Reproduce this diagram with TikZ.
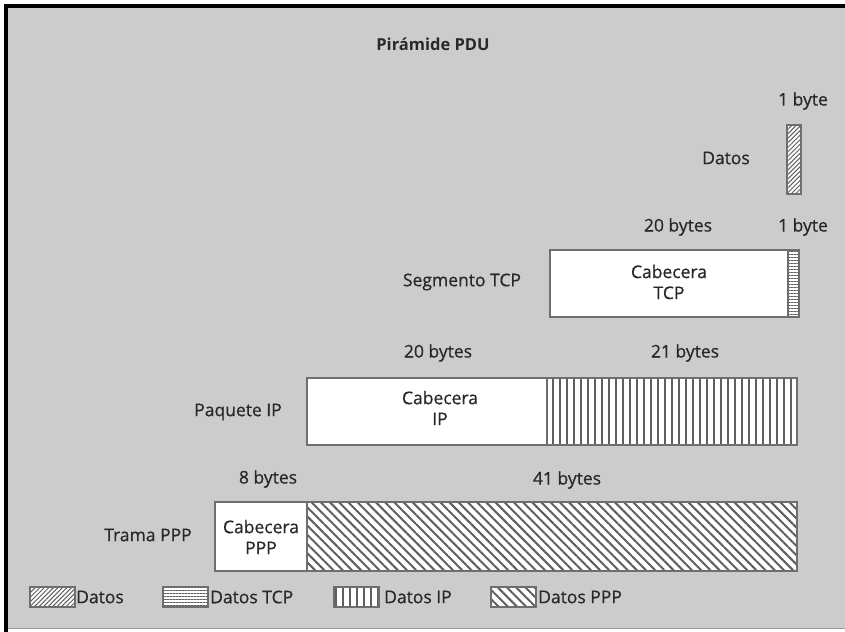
\documentclass[tikz,border=0pt]{standalone}
\usepackage{fontspec}
\setmainfont[FakeBold=0.6]{Open Sans}
\newfontfamily\titlefont{Open Sans}
\usetikzlibrary{patterns.meta}
\definecolor{bg}{RGB}{204,204,204}
\definecolor{edge}{RGB}{110,110,110}
\definecolor{hatch}{RGB}{95,95,95}
\definecolor{ink}{RGB}{40,40,40}
\begin{document}
\begin{tikzpicture}[x=1bp,y=-1bp,
  lbl/.style={font=\fontsize{17.5bp}{21bp}\selectfont, text=ink, inner sep=0pt, align=center},
  ttl/.style={font=\titlefont\fontsize{16.5bp}{20bp}\selectfont\bfseries, text=ink, inner sep=0pt},
  cell/.style={draw=edge, line width=1.3bp, anchor=north west, inner sep=0pt, outer sep=0pt},
  hdr/.style={cell, fill=white},
  hatched/.style={cell, preaction={fill=white}, pattern color=hatch},
  pdatos/.style={hatched, pattern={Lines[angle=45,distance=3.2bp,line width=1bp]}},
  ptcp/.style={hatched, pattern={Lines[angle=0,distance=3bp,line width=0.8bp]}},
  pip/.style={hatched, pattern={Lines[angle=90,distance=7bp,line width=1.1bp]}},
  pppp/.style={hatched, pattern={Lines[angle=-45,distance=6.5bp,line width=2bp]}},
  swatch/.style={minimum width=45bp, minimum height=20bp},
  legtxt/.style={lbl, anchor=west}
]
\useasboundingbox (0,0) rectangle (845,632);
\fill[white] (0,0) rectangle (845,632);
\fill[bg] (6,6) rectangle (845,628);
\draw[edge!70, line width=1bp] (8,628.5) -- (845,628.5);
\draw[black, line width=4bp] (6,632) -- (6,6) -- (845,6);

% title
\node[ttl] (title) at (433,44) {Pirámide PDU};

% data
\node[lbl] (b1) at (803,101) {1 byte};
\node[pdatos, minimum width=14bp, minimum height=69bp] (datos) at (787,125) {};
\node[lbl] (ldatos) at (726,158) {Datos};

% TCP segment
\node[lbl] (t20) at (678,227) {20 bytes};
\node[lbl] (t1) at (803,227) {1 byte};
\node[lbl] (lseg) at (462,282) {Segmento TCP};
\node[hdr, minimum width=238bp, minimum height=67bp] (tcph) at (550,250) {};
\node[ptcp, minimum width=11bp, minimum height=67bp] (tcpd) at (788,250) {};
\node[lbl] (tcpt) at (669,282) {Cabecera\\TCP};

% IP packet
\node[lbl] (i20) at (438,353) {20 bytes};
\node[lbl] (i21) at (685,353) {21 bytes};
\node[lbl] (lpaq) at (238,412) {Paquete IP};
\node[hdr, minimum width=240bp, minimum height=67bp] (iph) at (307,378) {};
\node[pip, minimum width=250bp, minimum height=67bp] (ipd) at (547,378) {};
\node[lbl] (ipt) at (440,408) {Cabecera\\IP};

% PPP frame
\node[lbl] (p8) at (268,479) {8 bytes};
\node[lbl] (p41) at (567,480) {41 bytes};
\node[lbl] (ltrama) at (148,535) {Trama PPP};
\node[hdr, minimum width=92bp, minimum height=69bp] (ppph) at (215,502) {};
\node[pppp, minimum width=490bp, minimum height=69bp] (pppd) at (307,502) {};
\node[lbl] (pppt) at (261,537) {Cabecera\\PPP};

% legend
\node[pdatos, swatch] (s1) at (30,587) {};
\node[legtxt] (l1) at (76,597) {Datos};
\node[ptcp, swatch] (s2) at (163,587) {};
\node[legtxt] (l2) at (210,597) {Datos TCP};
\node[pip, swatch] (s3) at (334,587) {};
\node[legtxt] (l3) at (384,597) {Datos IP};
\node[pppp, swatch] (s4) at (491,587) {};
\node[legtxt] (l4) at (538,597) {Datos PPP};
\end{tikzpicture}
\end{document}
